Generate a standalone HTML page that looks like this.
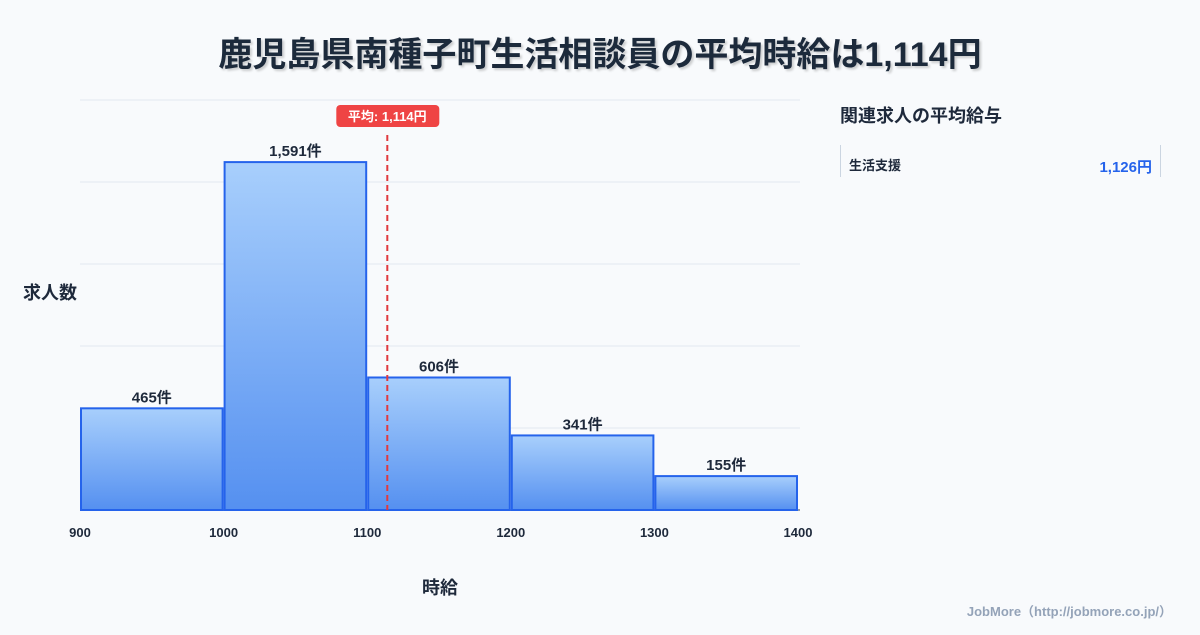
<!DOCTYPE html>
<html><head><meta charset="utf-8"><style>
body{margin:0;width:1200px;height:630px;background:#f8fafc;font-family:"Liberation Sans","Noto Sans CJK JP",sans-serif;overflow:hidden}
</style></head><body>
<svg width="1200" height="630" xmlns="http://www.w3.org/2000/svg" font-family="Liberation Sans, Noto Sans CJK JP, sans-serif">
<defs><linearGradient id="g" x1="0" y1="0" x2="0" y2="1"><stop offset="0" stop-color="#a8cffc"/><stop offset="1" stop-color="#5590f0"/></linearGradient>
<filter id="sh"><feDropShadow dx="2" dy="2" stdDeviation="1" flood-color="#000" flood-opacity="0.18"/></filter></defs>
<text x="600" y="66" text-anchor="middle" font-size="34" font-weight="bold" fill="#1e293b" filter="url(#sh)">鹿児島県南種子町生活相談員の平均時給は1,114円</text>
<g id="grid"></g><g id="bars"></g><g id="xt"></g>
<text x="50" y="299" text-anchor="middle" font-size="18" font-weight="bold" fill="#1e293b">求人数</text>
<text x="440" y="594" text-anchor="middle" font-size="18" font-weight="bold" fill="#1e293b">時給</text>
<g id="mean"></g>
<text x="840" y="122" font-size="18" font-weight="bold" fill="#1e293b">関連求人の平均給与</text>
<line x1="840.5" y1="145" x2="840.5" y2="177" stroke="#cbd5e1"/>
<line x1="1160.5" y1="145" x2="1160.5" y2="177" stroke="#cbd5e1"/>
<text x="849" y="170" font-size="13" font-weight="bold" fill="#1e293b">生活支援</text>
<text x="1152" y="172" text-anchor="end" font-size="15" font-weight="bold" fill="#2563eb">1,126円</text>
<text x="1172" y="616" text-anchor="end" font-size="13" font-weight="bold" fill="#94a3b8">JobMore（http://jobmore.co.jp/）</text>
</svg>
<script>
const binStarts=[900,1000,1100,1200,1300];
const counts=[465,1591,606,341,155];
const xTicks=[900,1000,1100,1200,1300,1400];
const yGrid=[0,375,750,1125,1500,1875];
const meanWage=1114;
const NS="http://www.w3.org/2000/svg";
const X=v=>80+(v-900)*718/500, Y=v=>510-v*410/1875;
function mk(t,a,p){const e=document.createElementNS(NS,t);for(const k in a)e.setAttribute(k,a[k]);p.appendChild(e);return e;}
const grid=document.getElementById('grid');
yGrid.forEach(v=>{const l=mk('line',{x1:80,x2:800,y1:Y(v),y2:Y(v),stroke:v===0?'#334155':'#e2e8f0','stroke-width':1},grid);

});
const bars=document.getElementById('bars');
binStarts.forEach((b,i)=>{const x0=X(b)+1,x1=X(b+100)-1,y=Y(counts[i]);
const r=mk('rect',{x:x0,y:y,width:x1-x0,height:510-y,fill:'url(#g)',stroke:'#2563eb','stroke-width':2},bars);


const t=mk('text',{x:(x0+x1)/2,y:y-6,'text-anchor':'middle','font-size':15,'font-weight':'bold',fill:'#1e293b'},bars);
t.textContent=counts[i].toLocaleString('en-US')+'件';

});
const xt=document.getElementById('xt');
xTicks.forEach(v=>{const t=mk('text',{x:X(v),y:537,'text-anchor':'middle','font-size':13,'font-weight':'bold',fill:'#1e293b'},xt);
t.textContent=v;

});
const mg=document.getElementById('mean'),mx=X(meanWage);
const ml=mk('line',{x1:mx,x2:mx,y1:135,y2:510,stroke:'#e0393e','stroke-width':2,'stroke-dasharray':'6,4'},mg);


const mr=mk('rect',{x:mx-51,y:105,width:103,height:22,rx:4,fill:'#ef4444'},mg);


const mt=mk('text',{x:mx,y:121,'text-anchor':'middle','font-size':13,'font-weight':'bold',fill:'#fff'},mg);
mt.textContent='平均: '+meanWage.toLocaleString('en-US')+'円';


</script>
</body></html>
